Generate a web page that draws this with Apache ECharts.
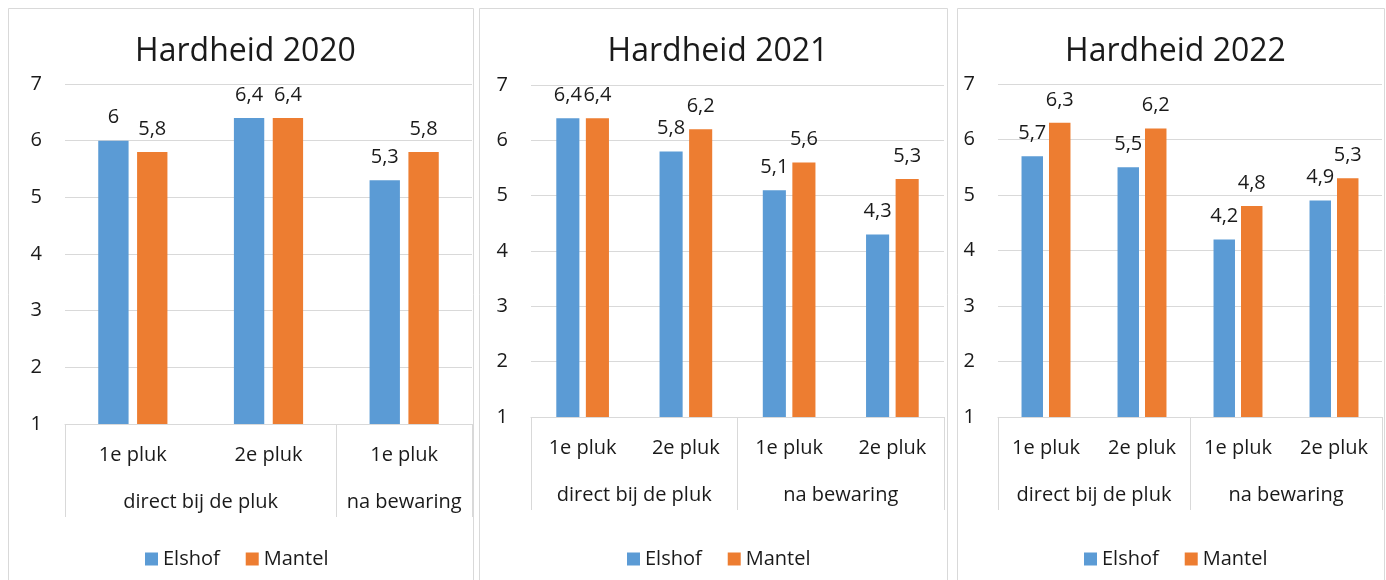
<!DOCTYPE html>
<html lang="nl">
<head>
  <meta charset="UTF-8">
  <title>Hardheid 2020 – 2022</title>
  <script src="https://cdn.jsdelivr.net/npm/echarts@6.0.0/dist/echarts.min.js"></script>
  <style>
    html, body { margin: 0; padding: 0; background: #fff; }
  </style>
</head>
<body>
  <div id="main" style="width: 1386px; height: 580px;"></div>

  <script>
    // Data
    const seriesNames = ['Elshof', 'Mantel'];

    const cats2020 = ['1e pluk', '2e pluk', '1e pluk'];
    const groups2020 = ['direct bij de pluk', 'na bewaring'];
    const groupSizes2020 = [2, 1];
    const elshof2020 = [6, 6.4, 5.3];
    const mantel2020 = [5.8, 6.4, 5.8];

    const cats2021 = ['1e pluk', '2e pluk', '1e pluk', '2e pluk'];
    const groups2021 = ['direct bij de pluk', 'na bewaring'];
    const groupSizes2021 = [2, 2];
    const elshof2021 = [6.4, 5.8, 5.1, 4.3];
    const mantel2021 = [6.4, 6.2, 5.6, 5.3];

    const cats2022 = ['1e pluk', '2e pluk', '1e pluk', '2e pluk'];
    const groups2022 = ['direct bij de pluk', 'na bewaring'];
    const groupSizes2022 = [2, 2];
    const elshof2022 = [5.7, 5.5, 4.2, 4.9];
    const mantel2022 = [6.3, 6.2, 4.8, 5.3];

    const yMin = 1, yMax = 7, yStep = 1;

    // Look
    const grey = '#d9d9d9';
    const ink = '#1a1a1a';
    const font = '"Open Sans", "Noto Sans", sans-serif';
    const colors = ['#5B9BD5', '#ED7D31'];
    const W = 1386, H = 580;

    const panels = [
      { title: 'Hardheid 2020', cats: cats2020, groups: groups2020, sizes: groupSizes2020,
        values: [elshof2020, mantel2020], box: [8, 473], plot: [65, 472, 84, 424], legendLeft: 145 },
      { title: 'Hardheid 2021', cats: cats2021, groups: groups2021, sizes: groupSizes2021,
        values: [elshof2021, mantel2021], box: [479, 947], plot: [531, 944, 85, 417], legendLeft: 627 },
      { title: 'Hardheid 2022', cats: cats2022, groups: groups2022, sizes: groupSizes2022,
        values: [elshof2022, mantel2022], box: [957, 1384], plot: [998, 1382, 84, 417], legendLeft: 1084 }
    ];

    // second level of the category axis: 2n+1 slots, group names in the middle, ticks at the edges
    function groupAxis(groups, sizes) {
      const n = sizes.reduce((a, b) => a + b, 0);
      const data = new Array(2 * n + 1).fill('');
      const edges = new Set([0]);
      let pos = 0;
      groups.forEach((g, i) => {
        data[2 * pos + sizes[i]] = g;
        pos += sizes[i];
        edges.add(2 * pos);
      });
      return { data, edges };
    }

    const fmt = p => String(p.value).replace('.', ',');

    const title = [], grid = [], xAxis = [], yAxis = [], series = [], legend = [], graphic = [];

    panels.forEach((p, k) => {
      const [l, r, t, b] = p.plot;
      const g = groupAxis(p.groups, p.sizes);

      graphic.push({
        type: 'rect', silent: true, z: -1,
        shape: { x: p.box[0] + 0.5, y: 8.5, width: p.box[1] - p.box[0], height: 600 },
        style: { fill: 'none', stroke: grey, lineWidth: 1 }
      });

      title.push({
        text: p.title, left: (p.box[0] + p.box[1]) / 2, top: 31, textAlign: 'center',
        textStyle: { fontFamily: font, fontSize: 32, fontWeight: 'normal', color: ink }
      });

      grid.push({ left: l, right: W - r, top: t, bottom: H - b });

      xAxis.push({
        type: 'category', gridIndex: k, position: 'bottom', offset: 0,
        data: p.cats,
        axisLine: { lineStyle: { color: grey, width: 1 } },
        axisTick: { show: false },
        axisLabel: { interval: 0, margin: 21, fontFamily: font, fontSize: 20, color: ink }
      });
      xAxis.push({
        type: 'category', gridIndex: k, position: 'bottom', offset: 0,
        boundaryGap: false,
        data: g.data,
        axisLine: { show: false },
        axisTick: { show: true, length: 93, interval: idx => g.edges.has(idx),
                    lineStyle: { color: grey, width: 1 } },
        axisLabel: { interval: 0, margin: 68, fontFamily: font, fontSize: 20, color: ink },
        splitLine: { show: false }
      });

      yAxis.push({
        type: 'value', gridIndex: k, min: yMin, max: yMax, interval: yStep,
        axisLine: { show: false },
        axisTick: { show: false },
        splitLine: { lineStyle: { color: grey, width: 1 } },
        axisLabel: { margin: 23, fontFamily: font, fontSize: 20, color: ink }
      });

      seriesNames.forEach((name, s) => {
        series.push({
          name, type: 'bar', xAxisIndex: 2 * k, yAxisIndex: k,
          data: p.values[s],
          barGap: '28%', barCategoryGap: '49%',
          itemStyle: { color: colors[s] },
          label: { show: true, position: 'top', distance: 13, formatter: fmt,
                   fontFamily: font, fontSize: 20, color: ink },
          emphasis: { disabled: true }
        });
      });

      legend.push({
        data: seriesNames, left: p.legendLeft, top: 549, padding: 0,
        icon: 'rect', itemWidth: 13, itemHeight: 13, itemGap: 26,
        textStyle: { fontFamily: font, fontSize: 20, color: ink }
      });
    });

    const myChart = echarts.init(document.getElementById('main'));
    myChart.setOption({
      animation: false,
      backgroundColor: '#fff',
      color: colors,
      title, grid, xAxis, yAxis, series, legend, graphic
    });
  </script>
</body>
</html>
